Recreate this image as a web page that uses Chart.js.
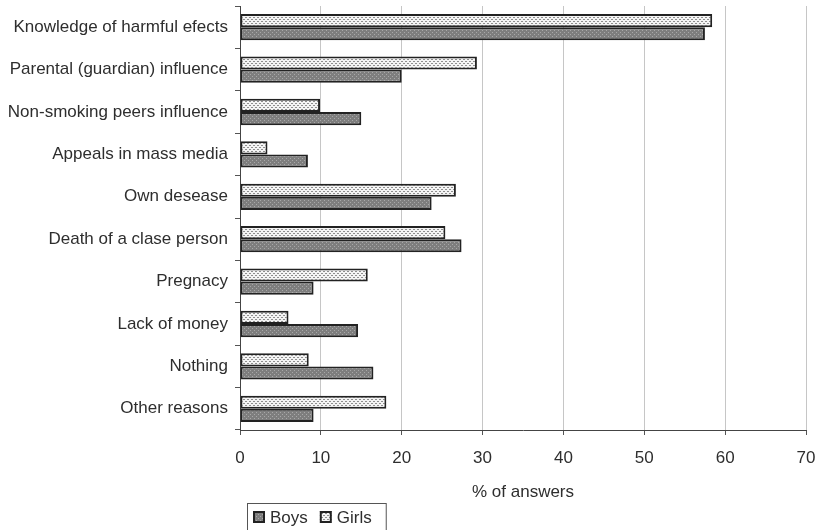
<!DOCTYPE html>
<html>
<head>
<meta charset="utf-8">
<script src="https://cdn.jsdelivr.net/npm/chart.js@4"></script>
<style>
  html, body { margin: 0; padding: 0; background: #ffffff; }
  #wrap { width: 820px; height: 530px; }
</style>
</head>
<body>
<div id="wrap"><canvas id="chart" width="820" height="530"></canvas></div>
<script>
// Reasons for quitting smoking, % of answers
const reasons = [
  'Knowledge of harmful efects',
  'Parental (guardian) influence',
  'Non-smoking peers influence',
  'Appeals in mass media',
  'Own desease',
  'Death of a clase person',
  'Pregnacy',
  'Lack of money',
  'Nothing',
  'Other reasons'
];
const girls = [58.4, 29.3, 9.9, 3.4, 26.7, 25.4, 15.8, 6.0, 8.5, 18.1];
const boys  = [57.5, 20.0, 15.0, 8.4, 23.7, 27.4, 9.1, 14.6, 16.5, 9.1];
const xTicks = [0, 10, 20, 30, 40, 50, 60, 70];

const FONT = '"Liberation Sans", Arial, Helvetica, sans-serif';
const TEXT = '#2e2e2e';

// small repeating dot textures for the bar fills
function dotPattern(bg, dot, cells) {
  const c = document.createElement('canvas');
  c.width = 4; c.height = 4;
  const g = c.getContext('2d');
  g.fillStyle = bg; g.fillRect(0, 0, 4, 4);
  g.fillStyle = dot;
  cells.forEach(([x, y]) => g.fillRect(x, y, 1, 1));
  return g.createPattern(c, 'repeat');
}
const girlsFill = dotPattern('#f4f4f4', '#8e8e8e', [[1, 1], [3, 3], [2, 1], [0, 3]]);
const boysFill  = dotPattern('#7e7e7e', '#a8a8a8', [[0, 0], [2, 2]]);

// boxed legend under the plot, left-aligned with the value axis
const boxedLegend = {
  id: 'boxedLegend',
  afterDraw(chart) {
    const ctx = chart.ctx;
    const area = chart.chartArea;
    const items = chart.data.datasets.slice().reverse();
    ctx.save();
    ctx.font = '17px ' + FONT;
    const left = area.left + 7, top = 503, h = 27;
    let x = left + 6;
    const pos = [];
    items.forEach(ds => {
      pos.push(x);
      x += 12 + 5 + ctx.measureText(ds.label).width + 12;
    });
    const right = x + 2;
    ctx.strokeStyle = '#555555';
    ctx.lineWidth = 1;
    ctx.strokeRect(left + 0.5, top + 0.5, right - left, h);
    items.forEach((ds, i) => {
      const mx = pos[i], my = top + 8;
      ctx.fillStyle = ds.backgroundColor;
      ctx.fillRect(mx, my, 12, 12);
      ctx.strokeStyle = '#222222';
      ctx.lineWidth = 2;
      ctx.strokeRect(mx + 1, my + 1, 10, 10);
      ctx.fillStyle = TEXT;
      ctx.textBaseline = 'middle';
      ctx.fillText(ds.label, mx + 17, my + 7);
    });
    ctx.restore();
  }
};

new Chart(document.getElementById('chart'), {
  type: 'bar',
  data: {
    labels: reasons,
    datasets: [
      { label: 'Girls', data: girls, backgroundColor: girlsFill,
        borderColor: '#222222', borderWidth: 2, borderSkipped: false },
      { label: 'Boys', data: boys, backgroundColor: boysFill,
        borderColor: '#222222', borderWidth: 2, borderSkipped: false }
    ]
  },
  options: {
    indexAxis: 'y',
    responsive: false,
    animation: false,
    layout: { padding: { top: 6, right: 14, bottom: 27, left: 0 } },
    datasets: { bar: { categoryPercentage: 0.62, barPercentage: 1.0 } },
    plugins: {
      legend: { display: false },
      tooltip: { enabled: false }
    },
    scales: {
      x: {
        min: 0, max: 70,
        afterBuildTicks(scale) { scale.ticks = xTicks.map(v => ({ value: v })); },
        afterFit(scale) {
          scale.height = 73;
          scale.paddingLeft = 0;
          scale.paddingRight = 0;
        },
        grid: { color: '#c6c6c6', lineWidth: 1, tickLength: 5, tickColor: '#555555' },
        border: { color: '#444444', width: 1 },
        ticks: { font: { family: FONT, size: 17 }, color: TEXT, padding: 13, maxRotation: 0 },
        title: { display: true, text: '% of answers', font: { family: FONT, size: 17 },
                 color: TEXT, padding: { top: 14, bottom: 0 } }
      },
      y: {
        afterFit(scale) {
          scale.width = 240;
          scale.paddingTop = 0;
          scale.paddingBottom = 0;
        },
        grid: { drawOnChartArea: false, offset: true, tickLength: 5, tickColor: '#555555' },
        border: { color: '#444444', width: 1 },
        ticks: { font: { family: FONT, size: 17 }, color: TEXT, padding: 7 }
      }
    }
  },
  plugins: [boxedLegend]
});
</script>
</body>
</html>
